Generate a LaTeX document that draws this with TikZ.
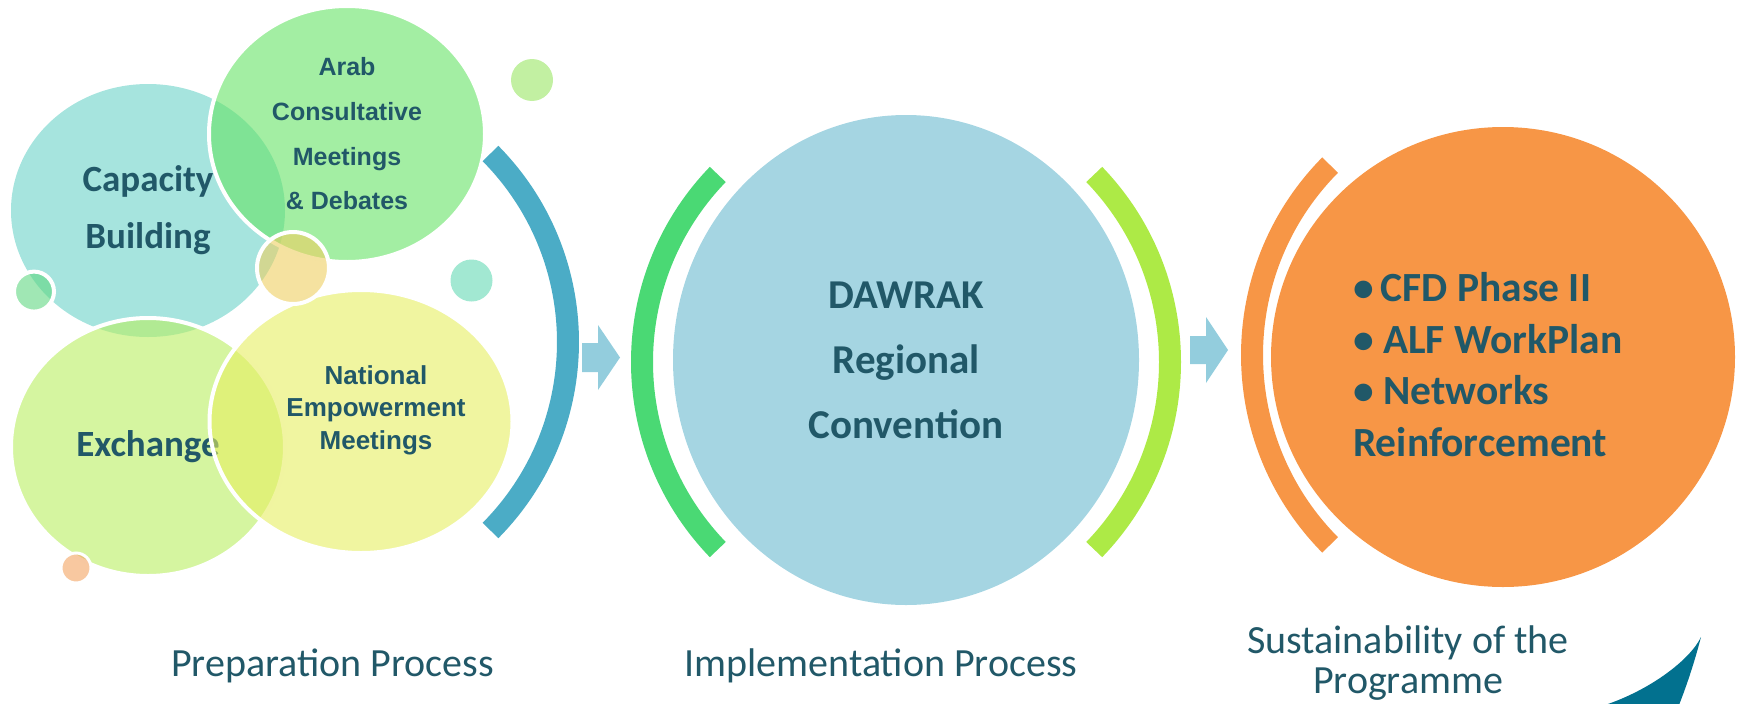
\documentclass[tikz,border=0pt]{standalone}
\usepackage{fontspec}
\setmainfont{Carlito}
\newfontfamily\arialf{Liberation Sans}
\usetikzlibrary{shapes.geometric}
\definecolor{txt}{HTML}{215868}
\definecolor{capc}{RGB}{107,210,200}
\definecolor{arabc}{RGB}{102,227,102}
\definecolor{exc}{RGB}{185,238,97}
\definecolor{natc}{RGB}{230,238,97}
\definecolor{smally}{RGB}{238,207,97}
\definecolor{smallg}{RGB}{97,215,130}
\definecolor{smallo}{RGB}{243,163,97}
\definecolor{topg}{RGB}{153,230,100}
\definecolor{teals}{RGB}{100,217,180}
\definecolor{bluearc}{HTML}{4BACC6}
\definecolor{arrowc}{HTML}{93CDDD}
\definecolor{greenarc}{HTML}{4AD974}
\definecolor{limearc}{HTML}{ADEA46}
\definecolor{dawc}{HTML}{A5D5E2}
\definecolor{orangec}{HTML}{F79646}
\definecolor{swoosh}{HTML}{02718F}
\begin{document}
\begin{tikzpicture}[x=1pt,y=-1pt,
  bub/.style={ellipse, inner sep=0pt, outer sep=0pt, fill opacity=0.6, text opacity=1,
    draw=white, draw opacity=1, line width=4pt, text=txt, align=center},
  dot/.style={circle, inner sep=0pt, outer sep=0pt, fill opacity=0.6, draw=white, draw opacity=1, line width=4pt},
  bigc/.style={ellipse, inner sep=0pt, outer sep=0pt, text=txt, align=center},
  band/.style={line width=22pt},
  lbl/.style={anchor=base, text=txt, font=\fontsize{40}{40}\selectfont}]
\path[use as bounding box] (0,0) rectangle (1743,704);

% left cluster
\node[bub, fill=capc, draw=none, minimum width=274pt, minimum height=253pt,
  font=\bfseries\fontsize{37}{57}\selectfont] (cap) at (148,210.5) {Capacity\\Building};
\node[bub, fill=exc, minimum width=274pt, minimum height=258pt,
  font=\bfseries\fontsize{37}{57}\selectfont] (exch) at (148,447) {Exchange};
\node[bub, fill=arabc, minimum width=276pt, minimum height=256pt,
  font=\arialf\bfseries\fontsize{25}{44.7}\selectfont] (arab) at (347,134) {Arab\\Consultative\\Meetings\\\& Debates};
\node[bub, fill=natc, minimum width=303pt, minimum height=263pt] (nat) at (361,421.5) {};
\node[text=txt, align=center, font=\arialf\bfseries\fontsize{26}{32.5}\selectfont] (natt) at (376,410) {National\\Empowerment\\Meetings};

\node[dot, fill=smally, minimum size=72pt] (d1) at (293,268) {};
\node[dot, fill=smallg, minimum size=40pt] (d2) at (34,291.6) {};
\node[dot, fill=smallo, minimum size=30pt, line width=3pt] (d3) at (76,568) {};
\node[dot, fill=topg, draw=none, minimum size=42pt] (d4) at (532,80) {};
\node[dot, fill=teals, draw=none, minimum size=42pt] (d5) at (471.5,280.5) {};

% blue bracket
\draw[band, bluearc] (300,342) ++(-44.7:268) arc[start angle=-44.7, end angle=44.7, radius=268];

% arrow 1
\fill[arrowc] (582,343) -- (598,343) -- (598,325) -- (620,357.5) -- (598,390) -- (598,372) -- (582,372) -- cycle;

% middle
\draw[band, greenarc] (912,362) ++(136:270) arc[start angle=136, end angle=224, radius=270];
\node[bigc, fill=dawc, minimum width=466pt, minimum height=490pt,
  font=\bfseries\fontsize{41}{65}\selectfont] (daw) at (906,360) {DAWRAK\\Regional\\Convention};
\draw[band, limearc] (900,362) ++(-44:270) arc[start angle=-44, end angle=44, radius=270];

% arrow 2
\fill[arrowc] (1190,336) -- (1206,336) -- (1206,317) -- (1228,350) -- (1206,383) -- (1206,364) -- (1190,364) -- cycle;

% right
\draw[band, orangec] (1522,355) ++(135.3:270) arc[start angle=135.3, end angle=224.7, radius=270];
\node[bigc, fill=orangec, minimum width=464pt, minimum height=460pt] (sus) at (1503,357) {};
\node[anchor=west, text=txt, align=left, inner sep=0pt,
  font=\bfseries\fontsize{41.5}{51.7}\selectfont] (sust) at (1353,364.5)
  {•\,CFD Phase II\\• ALF WorkPlan\\• Networks\\Reinforcement};

% labels
\node[lbl] (l1) at (332.5,676) {Preparation Process};
\node[lbl] (l2) at (881,676) {Implementation Process};
\node[lbl] (l3a) at (1408,653) {Sustainability of the};
\node[lbl] (l3b) at (1408,693) {Programme};

% swoosh
\fill[swoosh] (1701,637) .. controls (1690,660) and (1650,690) .. (1605,705)
  -- (1679,705) .. controls (1688,682) and (1695,660) .. cycle;
\end{tikzpicture}
\end{document}
